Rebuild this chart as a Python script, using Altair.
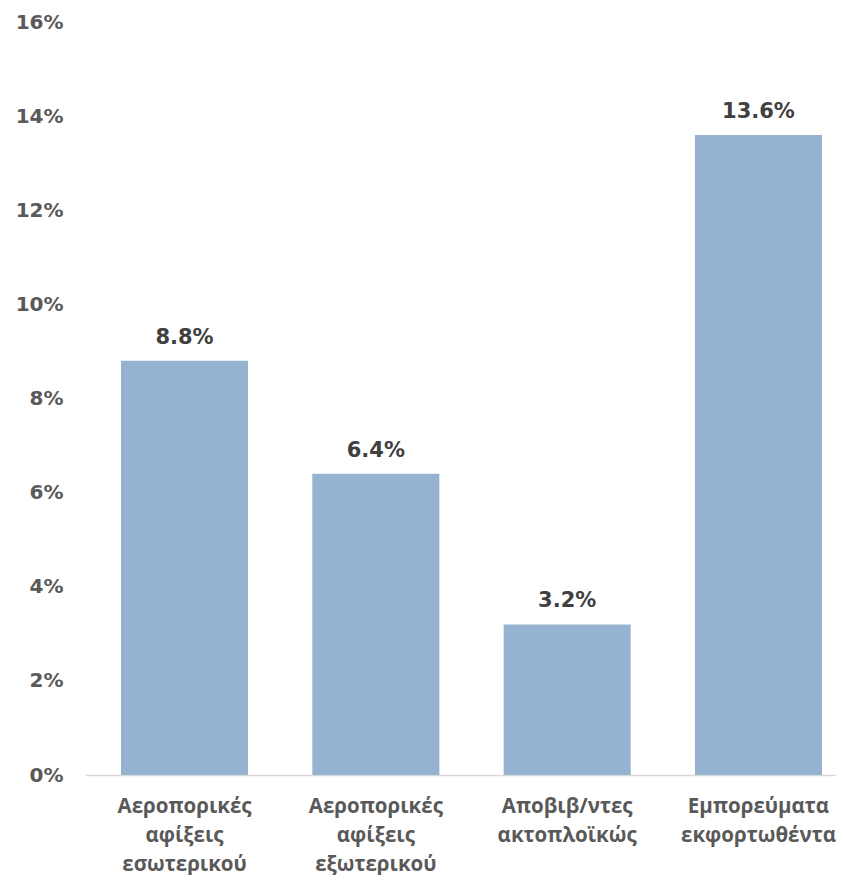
import altair as alt
import pandas as pd

categories = [
    ["Αεροπορικές", "αφίξεις", "εσωτερικού"],
    ["Αεροπορικές", "αφίξεις", "εξωτερικού"],
    ["Αποβιβ/ντες", "ακτοπλοϊκώς"],
    ["Εμπορεύματα", "εκφορτωθέντα"],
]
keys = ["A", "B", "C", "D"]
values = [0.088, 0.064, 0.032, 0.136]
value_labels = ["8.8%", "6.4%", "3.2%", "13.6%"]

df = pd.DataFrame({"key": keys, "value": values, "label": value_labels})

mapping = ",".join(
    "'%s': [%s]" % (k, ",".join("'%s'" % s for s in c)) for k, c in zip(keys, categories)
)
label_expr = "{" + mapping + "}[datum.value]"

GREEK_FONT = "Open Sans"
NUM_FONT = "DejaVu Sans"

x = alt.X(
    "key:N",
    sort=keys,
    title=None,
    scale=alt.Scale(paddingInner=0.336, paddingOuter=0.1307, align=0.72),
    axis=alt.Axis(
        labelExpr=label_expr,
        labelAngle=0,
        labelFont=GREEK_FONT,
        labelFontSize=20.5,
        labelFontWeight="bold",
        labelColor="#595959",
        labelLineHeight=29,
        labelPadding=21,
        labelBaseline="top",
        ticks=False,
        domainColor="#d9d9d9",
        domainWidth=1.5,
    ),
)

y = alt.Y(
    "value:Q",
    title=None,
    scale=alt.Scale(domain=[0, 0.16], nice=False),
    axis=alt.Axis(
        values=[0, 0.02, 0.04, 0.06, 0.08, 0.10, 0.12, 0.14, 0.16],
        format=".0%",
        labelFont=NUM_FONT,
        labelFontSize=20,
        labelFontWeight="bold",
        labelColor="#595959",
        labelPadding=22,
        ticks=False,
        domain=False,
        grid=False,
    ),
)

bars = alt.Chart(df).mark_bar(color="#95b3d1").encode(x=x, y=y)
text = alt.Chart(df).mark_text(
    font=NUM_FONT, fontSize=21, fontWeight="bold", color="#404040",
    baseline="alphabetic", dy=-17
).encode(x=alt.X("key:N", sort=keys), y="value:Q", text="label:N")

chart = (
    alt.layer(bars, text)
    .properties(
        width=751,
        height=753,
        background="white",
        autosize=alt.AutoSizeParams(type="none"),
        padding={"left": 77, "top": 14, "right": 0, "bottom": 100},
    )
    .configure_view(strokeWidth=0, stroke="transparent")
)

chart.save("out.html", embed_options={"renderer": "svg", "actions": False})
